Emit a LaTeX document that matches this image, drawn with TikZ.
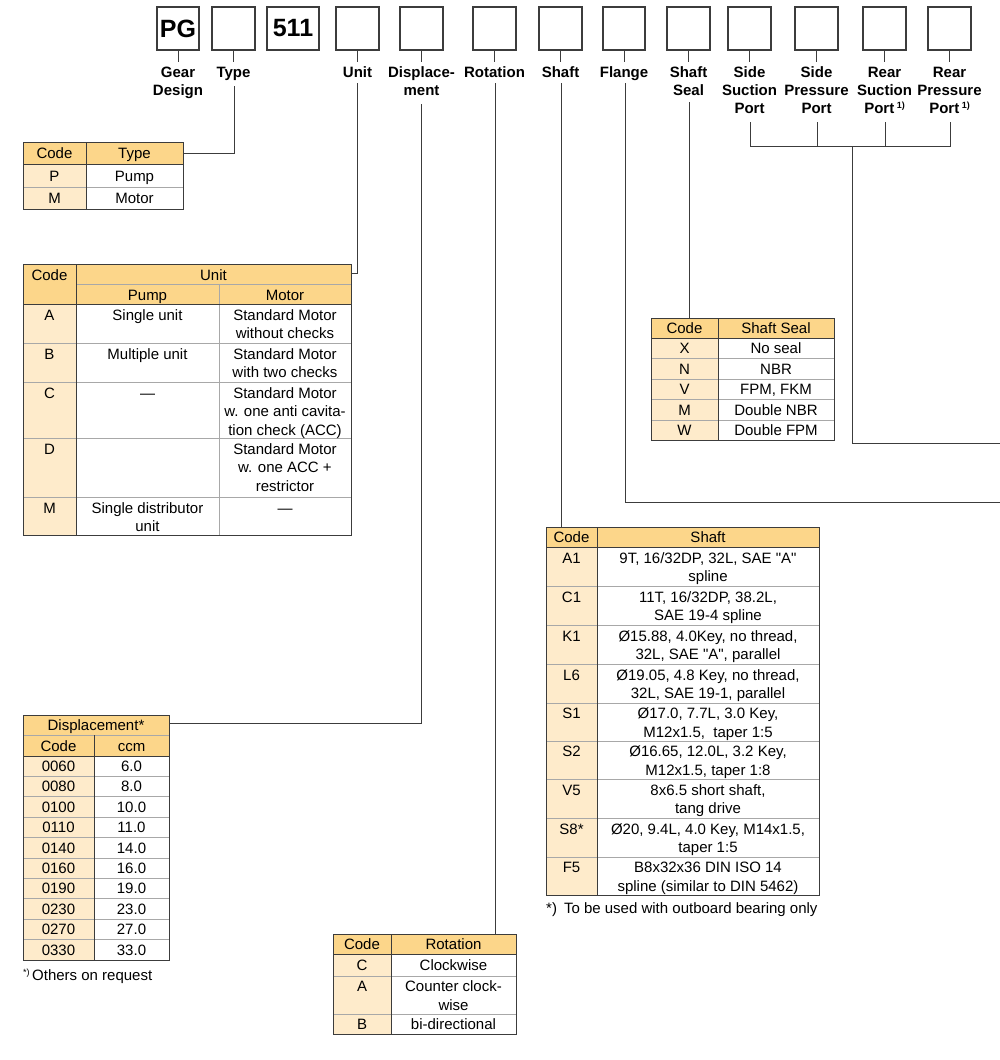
\documentclass[tikz,border=0pt]{standalone}
\usepackage{fontspec}
\setmainfont{Liberation Sans}
\definecolor{hdr}{HTML}{FCD68A}
\definecolor{cod}{HTML}{FEEBCB}
\definecolor{frm}{HTML}{3C3C3C}
\definecolor{grd}{HTML}{A8A8A8}
\tikzset{
 codebox/.style={draw=frm,line width=1.1pt,fill=white,minimum width=43pt,minimum height=43pt,inner sep=0,font=\fontsize{25}{25}\selectfont\bfseries},
 conn/.style={draw=frm,line width=0.9pt},
 lbl/.style={font=\fontsize{15}{18}\selectfont\bfseries,anchor=base,inner sep=0},
 tt/.style={font=\fontsize{15}{18}\selectfont,anchor=base,inner sep=0},
 frame/.style={draw=frm,line width=0.9pt},
 gridl/.style={draw=grd,line width=0.8pt},
}
\newcommand{\tc}[3]{\node[tt] at (#1,#2) {#3};}
\newcommand{\qq}{\textquotedbl}
\begin{document}
\begin{tikzpicture}[x=1pt,y=-1pt]
\useasboundingbox (0,0) rectangle (1000,1060);
\fill[white] (0,0) rectangle (1000,1060);
% ---------- top code boxes ----------
\node[codebox,minimum width=42pt] (bPG) at (178,28.5) {PG};
\node[codebox] (bType) at (233.5,28.5) {};
\node[codebox,minimum width=52pt] (b511) at (293,28.5) {511};
\node[codebox] (bUnit) at (357.5,28.5) {};
\node[codebox] (bDisp) at (421.5,28.5) {};
\node[codebox] (bRot) at (494.5,28.5) {};
\node[codebox] (bShaft) at (560.5,28.5) {};
\node[codebox,minimum width=42pt] (bFlange) at (624,28.5) {};
\node[codebox] (bSeal) at (688.5,28.5) {};
\node[codebox] (bSSuc) at (749.5,28.5) {};
\node[codebox] (bSPr) at (816.5,28.5) {};
\node[codebox] (bRSuc) at (884.5,28.5) {};
\node[codebox] (bRPr) at (949.5,28.5) {};
\foreach \b in {bPG,bType,bUnit,bDisp,bRot,bShaft,bFlange,bSeal,bSSuc,bSPr,bRSuc,bRPr}
  \draw[conn] (\b.south) -- ++(0,11);
% ---------- labels ----------
\node[lbl] (lGear) at (178,77) {Gear};
\node[lbl] (lGear2) at (178,95) {Design};
\node[lbl] (lType) at (233.5,77) {Type};
\node[lbl] (lUnit) at (357.5,77) {Unit};
\node[lbl] (lDisp) at (421.5,77) {Displace-};
\node[lbl] (lDisp2) at (421.5,95) {ment};
\node[lbl] (lRot) at (494.5,77) {Rotation};
\node[lbl] (lShaft) at (560.5,77) {Shaft};
\node[lbl] (lFlange) at (624,77) {Flange};
\node[lbl] (lSeal) at (688.5,77) {Shaft};
\node[lbl] (lSeal2) at (688.5,95) {Seal};
\node[lbl] (lSSuc) at (749.5,77) {Side};
\node[lbl] (lSSuc2) at (749.5,95) {Suction};
\node[lbl] (lSSuc3) at (749.5,113) {Port};
\node[lbl] (lSPr) at (816.5,77) {Side};
\node[lbl] (lSPr2) at (816.5,95) {Pressure};
\node[lbl] (lSPr3) at (816.5,113) {Port};
\node[lbl] (lRSuc) at (884.5,77) {Rear};
\node[lbl] (lRSuc2) at (884.5,95) {Suction};
\node[lbl] (lRSuc3) at (884.5,113) {Port\,\raisebox{4.5pt}{\fontsize{9}{9}\selectfont 1)}};
\node[lbl] (lRPr) at (949.5,77) {Rear};
\node[lbl] (lRPr2) at (949.5,95) {Pressure};
\node[lbl] (lRPr3) at (949.5,113) {Port\,\raisebox{4.5pt}{\fontsize{9}{9}\selectfont 1)}};
% ---------- connector anchor points ----------
\coordinate (typeR) at (183,153);
\coordinate (unitR) at (351,273);
\coordinate (dispR) at (169,723);
\coordinate (rotT) at (495,934);
\coordinate (shaftT) at (561,527);
\coordinate (sealT) at (689,318);
\coordinate (flangeE) at (1000,502);
\coordinate (portE) at (1000,443);
\coordinate (portJ) at (852,146);
\draw[conn] (234,86) |- (typeR);
\draw[conn] (357,83) |- (unitR);
\draw[conn] (421,104) |- (dispR);
\draw[conn] (495,83) -- (rotT);
\draw[conn] (561,83) -- (shaftT);
\draw[conn] (625,83) |- (flangeE);
\draw[conn] (689,102) -- (sealT);
\draw[conn] (750,122) -- (750,146) -- (950,146) -- (950,122);
\draw[conn] (817,122) -- (817,146);
\draw[conn] (885,122) -- (885,146);
\draw[conn] (portJ) |- (portE);
% ---------- Type table ----------
\fill[hdr] (23,142) rectangle (183,164);
\fill[cod] (23,164) rectangle (86,209);
\draw[gridl] (23,187) -- (183,187);
\draw[frame] (23,164) -- (183,164) (86,142) -- (86,209);
\draw[frame] (23,142) rectangle (183,209);
\tc{54.5}{158}{Code}\tc{134.5}{158}{Type}
\tc{54.5}{181}{P}\tc{134.5}{181}{Pump}
\tc{54.5}{203}{M}\tc{134.5}{203}{Motor}
% ---------- Unit table ----------
\fill[hdr] (23,264) rectangle (351,304);
\fill[cod] (23,304) rectangle (76,535);
\draw[gridl] (76,284) -- (351,284) (219,284) -- (219,535);
\foreach \yy in {343,382,438,497} \draw[gridl] (23,\yy) -- (351,\yy);
\draw[frame] (23,304) -- (351,304) (76,264) -- (76,535);
\draw[frame] (23,264) rectangle (351,535);
\tc{49.5}{280}{Code}\tc{213.5}{280}{Unit}
\tc{147.5}{300}{Pump}\tc{285}{300}{Motor}
\tc{49.5}{320}{A}\tc{147.5}{320}{Single unit}\tc{285}{320}{Standard Motor}\tc{285}{338.5}{without checks}
\tc{49.5}{359}{B}\tc{147.5}{359}{Multiple unit}\tc{285}{359}{Standard Motor}\tc{285}{377.5}{with two checks}
\tc{49.5}{398}{C}\tc{147.5}{398}{—}\tc{285}{398}{Standard Motor}\tc{285}{416.5}{w. one anti cavita-}\tc{285}{435}{tion check (ACC)}
\tc{49.5}{454}{D}\tc{285}{454}{Standard Motor}\tc{285}{472.5}{w. one ACC +}\tc{285}{491}{restrictor}
\tc{49.5}{513}{M}\tc{147.5}{513}{Single distributor}\tc{147.5}{531.5}{unit}\tc{285}{513}{—}
% ---------- Shaft seal table ----------
\fill[hdr] (651,318) rectangle (834,338);
\fill[cod] (651,338) rectangle (718,440);
\foreach \yy in {358,379,399,420} \draw[gridl] (651,\yy) -- (834,\yy);
\draw[frame] (651,338) -- (834,338) (718,318) -- (718,440);
\draw[frame] (651,318) rectangle (834,440);
\tc{684.5}{333.5}{Code}\tc{776}{333.5}{Shaft Seal}
\foreach \yy/\c/\d in {353.5/X/No seal,374/N/NBR,394.5/V/{FPM, FKM},415/M/Double NBR,435.5/W/Double FPM}
  {\tc{684.5}{\yy}{\c}\tc{776}{\yy}{\d}}
% ---------- Shaft table ----------
\fill[hdr] (546,527) rectangle (819,547);
\fill[cod] (546,547) rectangle (597,895);
\foreach \yy in {586,625,664,703,741,779,818,857} \draw[gridl] (546,\yy) -- (819,\yy);
\draw[frame] (546,547) -- (819,547) (597,527) -- (597,895);
\draw[frame] (546,527) rectangle (819,895);
\tc{571.5}{542.5}{Code}\tc{708}{542.5}{Shaft}
\tc{571.5}{563}{A1}\tc{708}{563}{9T, 16/32DP, 32L, SAE \qq A\qq}\tc{708}{581.5}{spline}
\tc{571.5}{602}{C1}\tc{708}{602}{11T, 16/32DP, 38.2L,}\tc{708}{620.5}{SAE 19-4 spline}
\tc{571.5}{641}{K1}\tc{708}{641}{Ø15.88, 4.0Key, no thread,}\tc{708}{659.5}{32L, SAE \qq A\qq, parallel}
\tc{571.5}{680}{L6}\tc{708}{680}{Ø19.05, 4.8 Key, no thread,}\tc{708}{698.5}{32L, SAE 19-1, parallel}
\tc{571.5}{718.5}{S1}\tc{708}{718.5}{Ø17.0, 7.7L, 3.0 Key,}\tc{708}{737}{M12x1.5,\ \ taper 1:5}
\tc{571.5}{756.5}{S2}\tc{708}{756.5}{Ø16.65, 12.0L, 3.2 Key,}\tc{708}{775}{M12x1.5, taper 1:8}
\tc{571.5}{795}{V5}\tc{708}{795}{8x6.5 short shaft,}\tc{708}{813.5}{tang drive}
\tc{571.5}{834}{S8*}\tc{708}{834}{Ø20, 9.4L, 4.0 Key, M14x1.5,}\tc{708}{852.5}{taper 1:5}
\tc{571.5}{872.5}{F5}\tc{708}{872.5}{B8x32x36 DIN ISO 14}\tc{708}{891}{spline (similar to DIN 5462)}
\node[tt,anchor=base west] (fnShaft) at (546,913) {*)\hspace{7pt}To be used with outboard bearing only};
% ---------- Displacement table ----------
\fill[hdr] (23,715) rectangle (169,756);
\fill[cod] (23,756) rectangle (94,960);
\draw[gridl] (23,735) -- (169,735);
\foreach \i in {1,...,9} \draw[gridl] (23,756+20.4*\i) -- (169,756+20.4*\i);
\draw[frame] (23,756) -- (169,756) (94,735) -- (94,960);
\draw[frame] (23,715) rectangle (169,960);
\tc{96}{730.5}{Displacement*}
\tc{58.5}{751}{Code}\tc{131.5}{751}{ccm}
\foreach \c/\v [count=\i from 0] in {0060/6.0,0080/8.0,0100/10.0,0110/11.0,0140/14.0,0160/16.0,0190/19.0,0230/23.0,0270/27.0,0330/33.0}
  {\tc{58.5}{771.5+20.4*\i}{\c}\tc{131.5}{771.5+20.4*\i}{\v}}
\node[tt,anchor=base west] (fnDisp) at (23,980) {\raisebox{4.5pt}{\fontsize{9}{9}\selectfont *)}\,Others on request};
% ---------- Rotation table ----------
\fill[hdr] (333,934) rectangle (516,954);
\fill[cod] (333,954) rectangle (391,1034);
\draw[gridl] (333,976) -- (516,976) (333,1014) -- (516,1014);
\draw[frame] (333,954) -- (516,954) (391,934) -- (391,1034);
\draw[frame] (333,934) rectangle (516,1034);
\tc{362}{949.5}{Code}\tc{453.5}{949.5}{Rotation}
\tc{362}{970.5}{C}\tc{453.5}{970.5}{Clockwise}
\tc{362}{991.5}{A}\tc{453.5}{991.5}{Counter clock-}\tc{453.5}{1010}{wise}
\tc{362}{1029.5}{B}\tc{453.5}{1029.5}{bi-directional}
\end{tikzpicture}
\end{document}
